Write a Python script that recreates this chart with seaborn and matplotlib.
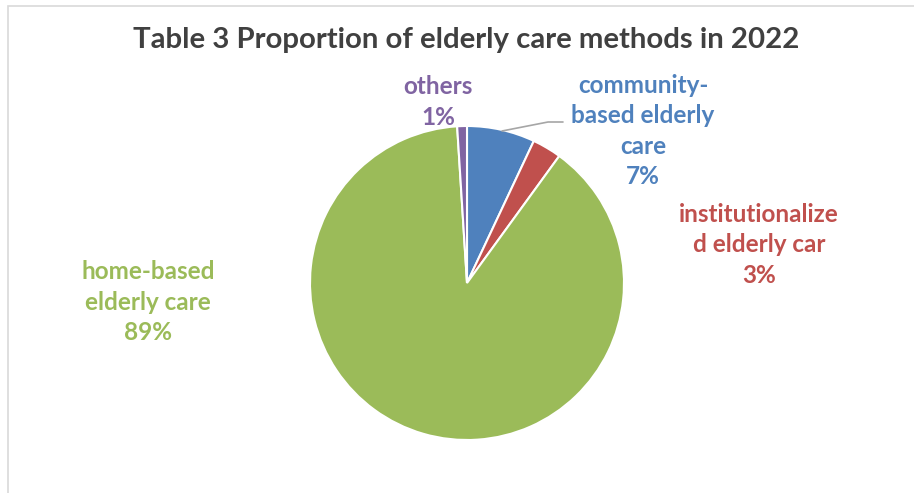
import matplotlib
matplotlib.use("Agg")
import matplotlib.pyplot as plt
import seaborn as sns

# --- data ---
categories = ["community-\nbased elderly\ncare", "institutionalize\nd elderly car",
              "home-based\nelderly care", "others"]
shares = [7, 3, 89, 1]
colors = ["#4F81BD", "#C0504D", "#9BBB59", "#8064A2"]
title = "Table 3 Proportion of elderly care methods in 2022"

sns.set_theme(style="white")
plt.rcParams['font.family'] = ['Lato', 'DejaVu Sans']

W, H = 914, 493
fig = plt.figure(figsize=(W / 100, H / 100), dpi=100)
ax = fig.add_axes([0, 0, 1, 1])

# chart frame (only left/top visible)
ax.plot([7.5, 7.5, W + 5], [H + 5, 5.5, 5.5], color="#D9D9D9", lw=1.2,
        solid_joinstyle="miter")

# pie (y axis inverted, so counterclock=True draws clockwise on screen)
cx, cy, r = 467, 283, 157
wedges, _ = ax.pie(shares, colors=colors, startangle=-90, counterclock=True,
                   center=(cx, cy), radius=r, frame=True,
                   wedgeprops=dict(edgecolor="white", linewidth=1.5))
ax.set_xlim(0, W)
ax.set_ylim(H, 0)
ax.set_aspect("equal")
ax.axis("off")

# labels
label_pos = [(643, 131), (759, 245), (148, 302), (438, 102)]
for name, val, col, (x, y) in zip(categories, shares, colors, label_pos):
    ax.text(x, y, f"{name}\n{val}%", color=col, fontsize=17.5, fontweight="bold",
            ha="center", va="center", linespacing=1.38)

# leader line for community label
ax.plot([502, 548, 563], [131, 122, 122], color="#A6A6A6", lw=1.2)

ax.text(466, 40, title, color="#404040", fontsize=21.2, fontweight="bold",
        ha="center", va="center")

fig.savefig("out.png", dpi=100)
